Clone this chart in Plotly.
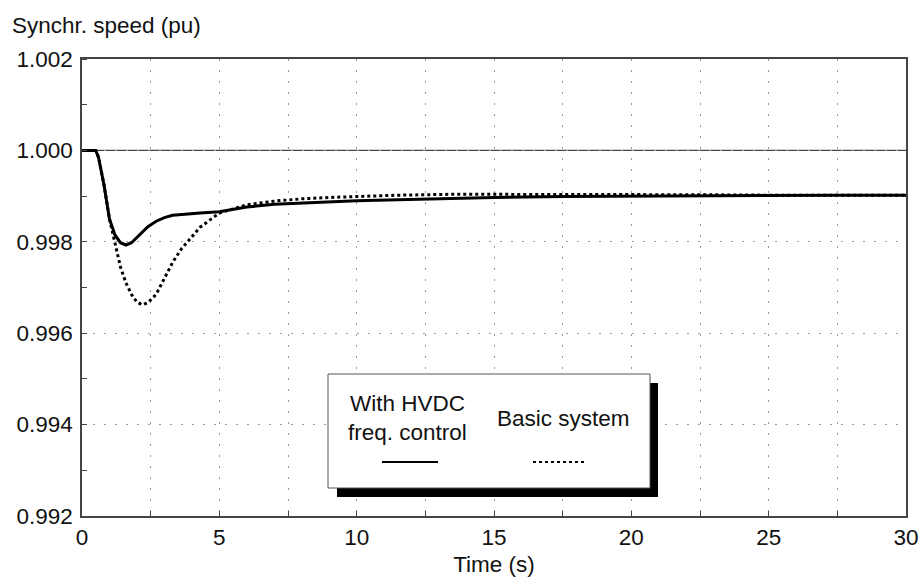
import plotly.graph_objects as go

time_s = [0, 0.5, 0.6, 0.8, 1.0, 1.2, 1.4, 1.6, 1.8, 2.0, 2.2, 2.4, 2.7, 3.0, 3.3, 3.6,
          4.0, 4.3, 5.0, 6.0, 7.0, 8.0, 9.0, 10, 11.5, 13.5, 15, 17.5, 20, 22.5, 25, 27.5, 30]
with_hvdc = [1.0, 1.0, 0.99985, 0.99925, 0.99850, 0.99815, 0.99798, 0.99793, 0.99798, 0.99810,
             0.99822, 0.99833, 0.99845, 0.99853, 0.99858, 0.99860, 0.99862, 0.99863, 0.99866,
             0.99876, 0.99882, 0.99885, 0.99888, 0.99890, 0.99892, 0.99895, 0.99897, 0.99899,
             0.99900, 0.99901, 0.99902, 0.99902, 0.99902]
basic_system = [1.0, 1.0, 0.99985, 0.99925, 0.99850, 0.99795, 0.99745, 0.99710, 0.99685, 0.99668,
                0.99662, 0.99667, 0.99685, 0.99720, 0.99755, 0.99783, 0.99812, 0.99832, 0.99863,
                0.99881, 0.99889, 0.99894, 0.99897, 0.99899, 0.99902, 0.99904, 0.99904, 0.99904,
                0.99903, 0.99903, 0.99902, 0.99902, 0.99902]
x_ticks = [0, 5, 10, 15, 20, 25, 30]
y_ticks = [0.992, 0.994, 0.996, 0.998, 1.000, 1.002]
y_tick_labels = ["0.992", "0.994", "0.996", "0.998", "1.000", "1.002"]
legend_labels = ["With HVDC<br>freq. control", "Basic system"]

W, H = 919, 579
L, R, T, B = 82, 906, 59, 516
FONT = "Liberation Sans, Arial, sans-serif"
FS = 22.5


def px(x):
    return (x - L) / (R - L)


def py(y):
    return (B - y) / (B - T)


fig = go.Figure()
fig.add_trace(go.Scatter(x=time_s, y=basic_system, mode="lines", name="Basic system",
                         line=dict(color="black", width=3, dash="dot")))
fig.add_trace(go.Scatter(x=time_s, y=with_hvdc, mode="lines", name="With HVDC freq. control",
                         line=dict(color="black", width=3)))

grid_col = "#9a9a9a"
fig.update_xaxes(range=[0, 30], tickvals=x_ticks, ticktext=[str(v) for v in x_ticks],
                 showline=True, linecolor="#444", linewidth=1.5, mirror=True,
                 showgrid=True, gridcolor=grid_col, griddash="2px,9px", gridwidth=1,
                 ticks="inside", ticklen=5, tickcolor="#444", zeroline=False,
                 minor=dict(dtick=2.5, tick0=0, showgrid=True, gridcolor=grid_col,
                            griddash="2px,9px", ticks="inside", ticklen=5, tickcolor="#444"),
                 tickfont=dict(family=FONT, size=FS, color="#111"),
                 title=dict(text="Time (s)", font=dict(family=FONT, size=FS, color="#111"),
                            standoff=7))
fig.update_yaxes(range=[0.992, 1.002], tickvals=y_ticks, ticktext=y_tick_labels,
                 showline=True, linecolor="#444", linewidth=1.5, mirror=True,
                 showgrid=True, gridcolor=grid_col, griddash="2px,9px", gridwidth=1,
                 ticks="", zeroline=False, ticklabelstandoff=3,
                 minor=dict(dtick=0.001, tick0=0.992, showgrid=False, ticks="inside",
                            ticklen=5, tickcolor="#444"),
                 tickfont=dict(family=FONT, size=FS, color="#111"))

shapes = [
    dict(type="line", xref="paper", yref="y", x0=0, x1=1, y0=1.0, y1=1.0,
         line=dict(color="#444", width=1.2), layer="below"),
    dict(type="rect", xref="paper", yref="paper", x0=px(337), x1=px(658), y0=py(497), y1=py(383),
         fillcolor="black", line=dict(width=0), layer="above"),
    dict(type="rect", xref="paper", yref="paper", x0=px(328), x1=px(650), y0=py(488), y1=py(374),
         fillcolor="white", line=dict(color="#555", width=1), layer="above"),
    dict(type="line", xref="paper", yref="paper", x0=px(382), x1=px(438), y0=py(462), y1=py(462),
         line=dict(color="black", width=2), layer="above"),
    dict(type="line", xref="paper", yref="paper", x0=px(533), x1=px(585), y0=py(462), y1=py(462),
         line=dict(color="black", width=2, dash="dot"), layer="above"),
]
annotations = [
    dict(text=legend_labels[0], xref="paper", yref="paper", x=px(407), y=py(418),
         showarrow=False, xanchor="center", yanchor="middle",
         font=dict(family=FONT, size=FS, color="#111")),
    dict(text=legend_labels[1], xref="paper", yref="paper", x=px(563), y=py(418),
         showarrow=False, xanchor="center", yanchor="middle",
         font=dict(family=FONT, size=FS, color="#111")),
]

fig.update_layout(
    width=W, height=H,
    margin=dict(l=L, r=W - R, t=T, b=H - B, autoexpand=False),
    paper_bgcolor="white", plot_bgcolor="white",
    showlegend=False, hovermode=False,
    shapes=shapes, annotations=annotations,
    title=dict(text="Synchr. speed (pu)", xref="container", yref="container",
               x=12 / W, xanchor="left", y=1 - 25 / H, yanchor="middle",
               font=dict(family=FONT, size=FS, color="#111")),
)

fig.write_html(
    "out.html",
    config={"displayModeBar": False},
    post_script="document.body.style.margin='0';document.body.style.overflow='hidden';"
                "document.documentElement.style.overflow='hidden';",
)
